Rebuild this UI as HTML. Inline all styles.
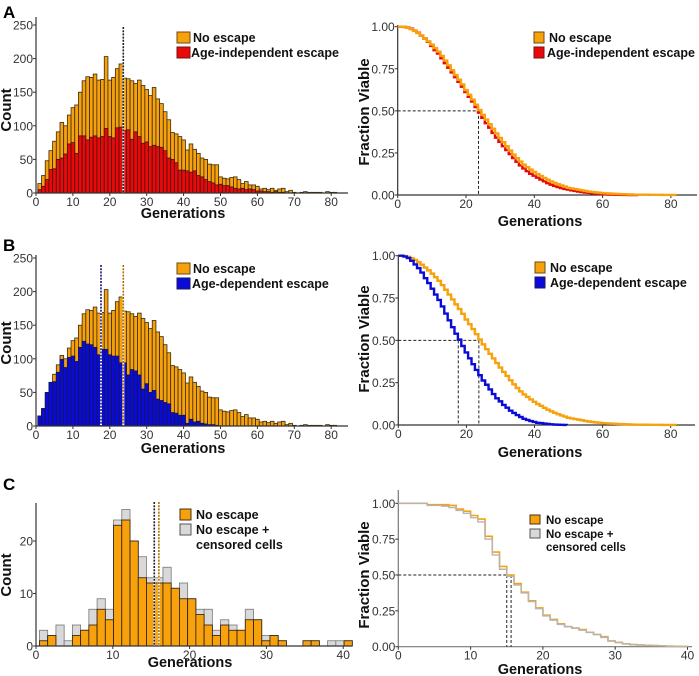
<!DOCTYPE html>
<html><head><meta charset="utf-8"><style>
html,body{margin:0;padding:0;background:#fff;}
svg{display:block;font-family:"Liberation Sans",Arial,sans-serif;}
.tk{font-size:12px;fill:#333;}
.tkr{font-size:12px;fill:#333;}
.ttl{font-size:14.5px;font-weight:bold;fill:#111;}
.lg{font-size:12.5px;font-weight:bold;fill:#111;}
.pl{font-size:17px;font-weight:bold;fill:#000;}
</style></head><body>
<svg id="fig" width="699" height="676" viewBox="0 0 699 676">
<text class="pl" x="3" y="18">A</text>
<text class="pl" x="3" y="251">B</text>
<text class="pl" x="3" y="490">C</text>

<text class="ttl" x="183" y="218" text-anchor="middle">Generations</text>
<text class="ttl" x="183" y="453" text-anchor="middle">Generations</text>
<text class="ttl" x="190" y="667" text-anchor="middle">Generations</text>
<text class="ttl" x="540" y="226" text-anchor="middle">Generations</text>
<text class="ttl" x="540" y="457" text-anchor="middle">Generations</text>
<text class="ttl" x="540" y="674" text-anchor="middle">Generations</text>

<text class="ttl" style="font-size:15px" transform="translate(11,110) rotate(-90)" text-anchor="middle">Count</text>
<text class="ttl" style="font-size:15px" transform="translate(11,343) rotate(-90)" text-anchor="middle">Count</text>
<text class="ttl" style="font-size:15px" transform="translate(11,575) rotate(-90)" text-anchor="middle">Count</text>
<text class="ttl" style="font-size:15px" transform="translate(369,112) rotate(-90)" text-anchor="middle">Fraction Viable</text>
<text class="ttl" style="font-size:15px" transform="translate(369,339) rotate(-90)" text-anchor="middle">Fraction Viable</text>
<text class="ttl" style="font-size:15px" transform="translate(369,575) rotate(-90)" text-anchor="middle">Fraction Viable</text>

<g>
<rect x="177" y="32" width="13" height="11" fill="#f7a10d" stroke="#6b4a12"/>
<text class="lg" x="193" y="42">No escape</text>
<rect x="177" y="47" width="13" height="11" fill="#e8090b" stroke="#7a1010"/>
<text class="lg" x="191" y="57">Age-independent escape</text>
</g>
<g>
<rect x="534" y="32" width="10" height="11" fill="#f7a10d" stroke="#6b4a12"/>
<text class="lg" x="549" y="42">No escape</text>
<rect x="534" y="47" width="10" height="11" fill="#e8090b" stroke="#7a1010"/>
<text class="lg" x="547" y="57">Age-independent escape</text>
</g>
<g>
<rect x="177" y="263" width="13" height="11" fill="#f7a10d" stroke="#6b4a12"/>
<text class="lg" x="193" y="273">No escape</text>
<rect x="177" y="278" width="13" height="11" fill="#0b0bd8" stroke="#1a1a60"/>
<text class="lg" x="192" y="288">Age-dependent escape</text>
</g>
<g>
<rect x="535" y="262" width="10" height="11" fill="#f7a10d" stroke="#6b4a12"/>
<text class="lg" x="550" y="272">No escape</text>
<rect x="535" y="277" width="10" height="11" fill="#0b0bd8" stroke="#1a1a60"/>
<text class="lg" x="550" y="287">Age-dependent escape</text>
</g>
<g>
<rect x="180" y="509" width="11" height="11" fill="#f7a10d" stroke="#4a3010"/>
<text class="lg" x="196" y="519">No escape</text>
<rect x="180" y="524" width="11" height="11" fill="#d9d9d9" stroke="#555"/>
<text class="lg" x="196" y="534">No escape +</text>
<text class="lg" x="196" y="549">censored cells</text>
</g>
<g>
<rect x="530" y="515" width="10" height="9" fill="#f7a10d" stroke="#4a3010"/>
<text class="lg" x="546" y="524" style="font-size:11.5px">No escape</text>
<rect x="530" y="529" width="10" height="9" fill="#d9d9d9" stroke="#555"/>
<text class="lg" x="546" y="538" style="font-size:11.5px">No escape +</text>
<text class="lg" x="546" y="551" style="font-size:11.5px">censored cells</text>
</g>
</svg>
<script>
// ---- data ----
const A_orange = [14,26,48,63,77,91,105,100,116,127,131,150,167,173,172,177,168,169,203,168,172,185,192,171,170,167,163,168,160,154,145,157,140,133,121,109,90,88,84,79,64,73,65,59,52,50,43,42,42,24,22,21,23,24,20,14,17,12,12,10,6,7,5,7,4,6,7,2,4,1,0,1,2,1,1,1,1,0,2,1,1];
const A_red = [5,10,20,35,36,50,52,58,73,75,59,85,85,79,83,85,82,84,96,84,82,97,98,93,94,80,91,84,74,76,69,71,69,68,63,52,50,45,34,34,33,31,33,26,24,20,17,15,12,13,11,11,9,7,6,7,5,6,5,3,3,2,2,1,2,1,1,0,0,0];
const B_orange = [14,26,48,63,77,91,105,100,116,127,131,150,167,173,172,177,168,169,203,168,172,185,192,171,170,167,163,168,160,154,145,157,140,133,121,109,90,88,84,79,64,73,65,59,52,50,43,42,42,24,22,21,23,24,20,14,17,12,12,10,6,7,5,7,4,6,7,2,4,1,0,1,2,1,1,1,1,0,2,1,1];
const B_blue = [15,26,50,65,66,80,99,87,102,104,96,117,126,122,121,117,106,114,114,106,104,104,94,94,76,84,82,76,55,63,50,53,40,38,35,33,20,19,16,16,4,10,6,7,4,3,2,2,1];
const C_orange = [1,2,0,0,2,3,4,7,5,23,24,20,13,12,12,12,11,9,9,6,4,2,4,3,3,5,5,1,2,1,0,0,1,1,0,0,0,1];
const C_gray = [3,2,4,1,4,3,7,9,7,24,26,20,17,13,13,15,11,12,9,7,7,3,5,4,3,7,5,2,2,1,0,0,1,1,0,1,1,1];
const C_surv_orange = [1,1,1,1,0.99,0.99,0.99,0.985,0.96,0.945,0.915,0.89,0.77,0.66,0.56,0.50,0.44,0.38,0.32,0.27,0.22,0.19,0.16,0.14,0.13,0.12,0.10,0.085,0.07,0.04,0.03,0.02,0.015,0.012,0.01,0.008,0.006,0.004,0.003,0.002,0];
const C_surv_gray = [1,1,1,1,0.985,0.985,0.98,0.97,0.95,0.93,0.9,0.87,0.75,0.64,0.54,0.49,0.43,0.375,0.315,0.265,0.215,0.185,0.155,0.14,0.13,0.115,0.10,0.085,0.065,0.04,0.03,0.02,0.015,0.012,0.01,0.008,0.006,0.004,0.003,0.002,0];
const C_hist_medians = [15.4, 16.0];
const C_surv_medians = [15.0, 15.6];
const histTicksX = [0,10,20,30,40,50,60,70,80];
const histTicksY = [0,50,100,150,200,250];
const cTicksX = [0,10,20,30,40];
const cTicksY = [0,10,20];
const survTicksY = [0,0.25,0.5,0.75,1];
const survTicksX = [0,20,40,60,80];

const NS = 'http://www.w3.org/2000/svg';
const svg = document.getElementById('fig');
function mk(tag, attrs, parent, name) {
  const e = document.createElementNS(NS, tag);
  for (const k in attrs) e.setAttribute(k, attrs[k]);
  
  
  (parent || svg).appendChild(e);
  return e;
}
function group(name) { return mk('g', {}, svg, name); }

function axes(p, name, cls, fmt) {
  const g = group(name);
  mk('line', {x1:p.xS(0), y1:p.yTop, x2:p.xS(0), y2:p.yS(0), stroke:p.axc||'#333', 'stroke-width':1.2}, g, 'y-axis-line');
  mk('line', {x1:p.xS(0), y1:p.yS(0), x2:p.xEnd, y2:p.yS(0), stroke:p.axc||'#333', 'stroke-width':1.2}, g, 'x-axis-line');
  p.xt.forEach(v => {
    const x = p.xS(v);
    mk('line', {x1:x, y1:p.yS(0), x2:x, y2:p.yS(0)+3, stroke:'#333'}, g, 'x-tick');
    const t = mk('text', {x:x, y:p.yS(0)+13, 'text-anchor':'middle', class:cls}, g, 'x-tick-label');
    t.textContent = v;
  });
  p.yt.forEach(v => {
    const y = p.yS(v);
    mk('line', {x1:p.xS(0)-3, y1:y, x2:p.xS(0), y2:y, stroke:'#333'}, g, 'y-tick');
    const t = mk('text', {x:p.xS(0)-3, y:y+4.5, 'text-anchor':'end', class:cls}, g, 'y-tick-label');
    t.textContent = fmt ? fmt(v) : v;
  });
}
function hist(counts, start, w, p, fill, stroke, name) {
  const g = group(name);
  counts.forEach((c, i) => {
    if (c <= 0) { return; }
    const x0 = p.xS(start + i * w), x1 = p.xS(start + (i + 1) * w);
    mk('rect', {x:x0, y:p.yS(c), width:x1 - x0, height:p.yS(0) - p.yS(c), fill:fill, stroke:stroke, 'stroke-width':0.8}, g, 'bar');
  });
}
function survHist(counts, start, w) {
  const total = counts.reduce((a, b) => a + b, 0);
  const pts = [[0, 1], [start, 1]];
  let cum = 0, s = 1;
  counts.forEach((c, i) => {
    cum += c;
    const x = start + (i + 1) * w;
    pts.push([x, s]);
    s = 1 - cum / total;
    pts.push([x, s]);
  });
  return pts;
}
function survArr(arr) {
  const pts = [];
  arr.forEach((v, i) => { pts.push([i, v]); if (i + 1 < arr.length) pts.push([i + 1, v]); });
  return pts;
}
function median(counts, start, w) {
  const total = counts.reduce((a, b) => a + b, 0), half = total / 2;
  let cum = 0;
  for (let i = 0; i < counts.length; i++) {
    if (cum + counts[i] >= half) return start + i * w + (half - cum) / counts[i] * w;
    cum += counts[i];
  }
  return start + counts.length * w;
}
function line(pts, p, color, sw, name) {
  const d = pts.map((q, i) => (i ? 'L' : 'M') + p.xS(q[0]).toFixed(2) + ',' + p.yS(q[1]).toFixed(2)).join('');
  mk('path', {d:d, fill:'none', stroke:color, 'stroke-width':sw, 'stroke-linejoin':'miter'}, svg, name);
}
function vline(x, p, yTop, color, name) {
  mk('line', {x1:p.xS(x), y1:yTop, x2:p.xS(x), y2:p.yS(0), stroke:'#fff', 'stroke-width':2}, svg, name + '-bg');
  mk('line', {x1:p.xS(x), y1:yTop, x2:p.xS(x), y2:p.yS(0), stroke:color, 'stroke-width':1.6, 'stroke-dasharray':'2,1.2'}, svg, name);
}
function medGuide(m, p, name, withH) {
  if (withH) mk('line', {x1:p.xS(0), y1:p.yS(0.5), x2:p.xS(m), y2:p.yS(0.5), stroke:'#222', 'stroke-width':1, 'stroke-dasharray':'3,2'}, svg, name + '-h');
  mk('line', {x1:p.xS(m), y1:p.yS(0.5), x2:p.xS(m), y2:p.yS(0), stroke:'#222', 'stroke-width':1, 'stroke-dasharray':'3,2'}, svg, name + '-v');
}

const OR = '#f7a10d', RED = '#e8090b', BLUE = '#0b0bd8', GR = '#d9d9d9';
const f2 = v => v.toFixed(2);

// Panel A histogram
const pA = {xS:g => 36 + g * 3.69, yS:v => 193 - v * 0.672, yTop:17, xEnd:348, xt:histTicksX, yt:histTicksY};
hist(A_orange, 0.5, 1, pA, OR, '#3a2a10', 'a-bars-no-escape');
hist(A_red, 0.5, 1, pA, RED, '#4a1010', 'a-bars-age-independent');
vline(median(A_orange, 0.5, 1), pA, 27, '#222', 'a-median-line');
axes(pA, 'a-hist-axes', 'tk');

// Panel B histogram
const pB = {xS:g => 36 + g * 3.69, yS:v => 426 - v * 0.672, yTop:255, xEnd:348, xt:histTicksX, yt:histTicksY};
hist(B_orange, 0.5, 1, pB, OR, '#3a2a10', 'b-bars-no-escape');
hist(B_blue, 0.5, 1, pB, BLUE, '#15154a', 'b-bars-age-dependent');
vline(median(B_blue, 0.5, 1), pB, 265, '#1a1a70', 'b-median-line-blue');
vline(median(B_orange, 0.5, 1), pB, 265, '#b07000', 'b-median-line-orange');
axes(pB, 'b-hist-axes', 'tk');

// Panel C histogram
const pC = {xS:g => 36 + g * 7.68, yS:v => 646 - v * 5.25, yTop:503, xEnd:352, xt:cTicksX, yt:cTicksY};
hist(C_gray, 0.45, 1.072, pC, GR, '#777', 'c-bars-censored');
hist(C_orange, 0.45, 1.072, pC, OR, '#2a1a10', 'c-bars-no-escape');
vline(C_hist_medians[0], pC, 502, '#222', 'c-median-line-censored');
vline(C_hist_medians[1], pC, 502, '#b07000', 'c-median-line-orange');
axes(pC, 'c-hist-axes', 'tk');

// Panel A survival
const sA = {xS:g => 397.7 + g * 3.415, yS:v => 195 - v * 168.3, yTop:25, xEnd:697, xt:survTicksX, yt:survTicksY};
axes(sA, 'a-surv-axes', 'tkr', f2);
medGuide(median(A_orange, 0.5, 1), sA, 'a-surv-median', true);
line(survHist(A_red, 0.5, 1), sA, RED, 2.4, 'a-surv-age-independent');
line(survHist(A_orange, 0.5, 1), sA, OR, 2.4, 'a-surv-no-escape');

// Panel B survival
const sB = {xS:g => 398.3 + g * 3.405, yS:v => 425 - v * 169.3, yTop:255, xEnd:695, xt:survTicksX, yt:survTicksY};
axes(sB, 'b-surv-axes', 'tkr', f2);
medGuide(median(B_orange, 0.5, 1), sB, 'b-surv-median-orange', true);
medGuide(median(B_blue, 0.5, 1), sB, 'b-surv-median-blue', false);
line(survHist(B_orange, 0.5, 1), sB, OR, 2.4, 'b-surv-no-escape');
line(survHist(B_blue, 0.5, 1), sB, BLUE, 2.4, 'b-surv-age-dependent');

// Panel C survival
const sC = {xS:g => 398.3 + g * 7.23, yS:v => 646.7 - v * 143.4, yTop:490, xEnd:692, xt:cTicksX, yt:survTicksY, axc:'#777'};
axes(sC, 'c-surv-axes', 'tkr', f2);
medGuide(C_surv_medians[1], sC, 'c-surv-median-orange', true);
medGuide(C_surv_medians[0], sC, 'c-surv-median-censored', false);
line(survArr(C_surv_orange), sC, OR, 1.6, 'c-surv-no-escape');
line(survArr(C_surv_gray), sC, '#b5b5b5', 1.4, 'c-surv-censored');
</script>
</body></html>
